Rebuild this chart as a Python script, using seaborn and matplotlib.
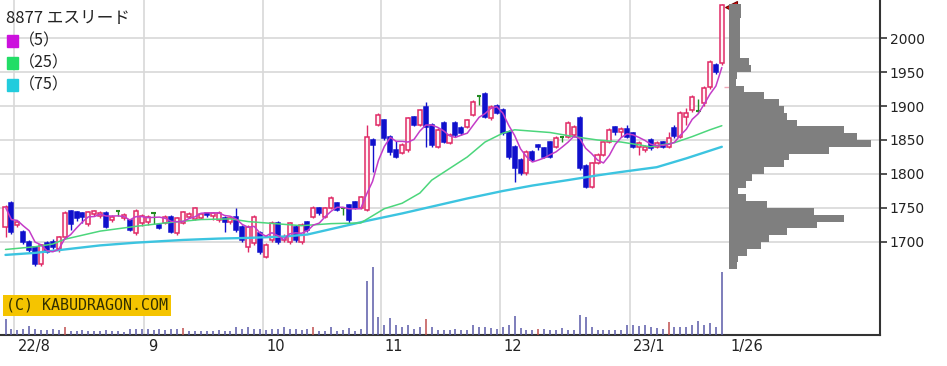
import numpy as np
import pandas as pd
import matplotlib
matplotlib.use("Agg")
import matplotlib.pyplot as plt
import matplotlib.transforms as mtransforms
from matplotlib.patches import Rectangle
import seaborn as sns

# ==========================
# data (8877 エスリード, daily, 2022/7 - 2023/1/26)
# ==========================
opens = [1722, 1758, 1725, 1714, 1700, 1692, 1667, 1698, 1700, 1689,
         1707, 1746, 1744, 1742, 1726, 1741, 1738, 1743, 1732, 1745,
         1735, 1732, 1713, 1728, 1730, 1742, 1725, 1728, 1737, 1713,
         1728, 1737, 1734, 1736, 1742, 1738, 1732, 1736, 1730, 1737,
         1722, 1693, 1698, 1713, 1678, 1703, 1728, 1703, 1700, 1722,
         1700, 1729, 1737, 1750, 1737, 1750, 1757, 1750, 1754, 1759,
         1750, 1747, 1850, 1872, 1879, 1855, 1835, 1831, 1835, 1884,
         1872, 1899, 1872, 1840, 1875, 1846, 1875, 1867, 1869, 1887,
         1915, 1918, 1882, 1900, 1894, 1862, 1840, 1821, 1801, 1832,
         1843, 1838, 1847, 1840, 1855, 1855, 1857, 1882, 1812, 1781,
         1816, 1828, 1847, 1869, 1862, 1866, 1860, 1840, 1835, 1850,
         1840, 1847, 1840, 1868, 1855, 1884, 1894, 1893, 1904, 1928,
         1960, 1963]
highs = [1754, 1761, 1731, 1718, 1703, 1694, 1697, 1701, 1704, 1709,
         1745, 1747, 1746, 1744, 1746, 1747, 1746, 1745, 1739, 1746,
         1742, 1734, 1748, 1741, 1740, 1743, 1726, 1739, 1739, 1737,
         1746, 1744, 1752, 1743, 1744, 1744, 1745, 1738, 1737, 1750,
         1725, 1725, 1740, 1716, 1698, 1731, 1731, 1712, 1730, 1725,
         1728, 1731, 1753, 1752, 1752, 1768, 1759, 1750, 1756, 1761,
         1768, 1872, 1853, 1890, 1881, 1858, 1848, 1845, 1884, 1886,
         1896, 1906, 1875, 1868, 1878, 1860, 1878, 1870, 1881, 1909,
         1915, 1920, 1901, 1903, 1897, 1864, 1843, 1823, 1835, 1835,
         1844, 1840, 1849, 1856, 1855, 1878, 1872, 1885, 1814, 1818,
         1831, 1849, 1868, 1871, 1869, 1872, 1862, 1848, 1843, 1853,
         1849, 1849, 1862, 1872, 1893, 1897, 1916, 1910, 1929, 1968,
         1963, 2050]
lows = [1707, 1712, 1722, 1697, 1685, 1664, 1665, 1684, 1689, 1686,
        1705, 1718, 1731, 1728, 1724, 1738, 1735, 1720, 1730, 1738,
        1733, 1716, 1711, 1724, 1725, 1727, 1719, 1726, 1713, 1711,
        1726, 1735, 1732, 1734, 1737, 1733, 1730, 1715, 1727, 1715,
        1700, 1685, 1696, 1683, 1676, 1700, 1697, 1700, 1697, 1700,
        1697, 1715, 1735, 1740, 1735, 1748, 1745, 1740, 1728, 1748,
        1748, 1745, 1803, 1870, 1850, 1828, 1823, 1829, 1833, 1870,
        1870, 1840, 1840, 1838, 1845, 1844, 1854, 1857, 1867, 1885,
        1901, 1882, 1880, 1888, 1858, 1822, 1788, 1798, 1799, 1819,
        1836, 1823, 1823, 1838, 1847, 1853, 1855, 1806, 1779, 1779,
        1814, 1826, 1845, 1858, 1855, 1853, 1838, 1828, 1833, 1835,
        1838, 1838, 1838, 1853, 1853, 1872, 1891, 1890, 1900, 1925,
        1947, 1960]
closes = [1751, 1715, 1729, 1700, 1688, 1667, 1695, 1686, 1692, 1707,
          1743, 1726, 1735, 1737, 1744, 1745, 1743, 1722, 1737, 1745,
          1740, 1718, 1746, 1738, 1737, 1742, 1720, 1737, 1715, 1735,
          1744, 1741, 1750, 1741, 1739, 1742, 1743, 1730, 1735, 1718,
          1703, 1722, 1737, 1685, 1696, 1728, 1700, 1708, 1728, 1703,
          1725, 1718, 1750, 1743, 1750, 1765, 1747, 1750, 1732, 1750,
          1766, 1854, 1843, 1887, 1853, 1832, 1825, 1843, 1882, 1872,
          1894, 1869, 1843, 1865, 1847, 1857, 1857, 1860, 1879, 1906,
          1915, 1884, 1899, 1890, 1860, 1825, 1809, 1801, 1832, 1821,
          1839, 1825, 1825, 1853, 1855, 1875, 1869, 1809, 1781, 1816,
          1828, 1847, 1865, 1862, 1866, 1855, 1840, 1846, 1840, 1838,
          1846, 1840, 1853, 1856, 1890, 1890, 1913, 1893, 1926, 1965,
          1950, 2049]
volume = [16, 6, 5, 6, 9, 6, 5, 5, 6, 5,
          8, 4, 4, 5, 4, 4, 4, 5, 4, 4,
          3, 6, 6, 6, 6, 5, 6, 5, 6, 6,
          7, 4, 4, 4, 4, 4, 5, 4, 4, 8,
          6, 8, 6, 6, 5, 6, 6, 8, 6, 6,
          5, 6, 8, 4, 4, 8, 4, 5, 7, 4,
          6, 54, 68, 18, 10, 17, 10, 8, 10, 6,
          8, 16, 8, 5, 5, 5, 6, 5, 5, 10,
          8, 8, 7, 6, 8, 10, 19, 7, 5, 5,
          6, 6, 5, 5, 7, 5, 5, 20, 18, 8,
          5, 5, 5, 5, 5, 10, 10, 9, 10, 8,
          7, 6, 13, 8, 8, 8, 10, 14, 10, 12,
          8, 63]
sq_days = [10, 30, 52, 71, 90, 112]

# moving averages (read at points along the lines)
ma25_idx = [0, 5, 8, 10, 13, 16, 22, 27, 33, 38, 41, 44, 50, 55, 60, 64, 67,
            70, 72, 75, 78, 81, 84, 86, 92, 96, 100, 104, 109, 113, 116, 119, 121]
ma25_val = [1689, 1693, 1697, 1704, 1710, 1716, 1723, 1728, 1733, 1734, 1730,
            1728, 1724, 1727, 1728, 1749, 1757, 1772, 1791, 1808, 1825, 1847,
            1860, 1865, 1861, 1855, 1850, 1847, 1840, 1846, 1855, 1865, 1871]
ma75_idx = [0, 5, 10, 16, 22, 26, 30, 36, 41, 47, 51, 55, 61, 67, 72, 78, 84,
            89, 95, 100, 104, 110, 115, 121]
ma75_val = [1681, 1684, 1689, 1695, 1699, 1701, 1703, 1705, 1706, 1708, 1711,
            1719, 1731, 1742, 1752, 1764, 1775, 1783, 1791, 1798, 1803, 1810,
            1823, 1840]

# price-by-volume profile (10 yen bins)
prof_lo = list(range(1660, 2050, 10))
prof_vol = [8, 9, 18, 32, 40, 58, 88, 115, 85, 38,
            17, 9, 17, 23, 35, 55, 60, 100, 142, 128,
            115, 68, 58, 55, 50, 35, 15, 7, 8, 22,
            20, 11, 11, 11, 11, 11, 11, 12, 12]

month_idx = [2, 24, 44, 64, 84, 106]
month_lbl = ["22/8", "9", "10", "11", "12", "23/1"]

df = pd.DataFrame({"open": opens, "high": highs, "low": lows, "close": closes, "vol": volume})
df["ma5"] = df["close"].rolling(5, min_periods=1).mean()
n = len(df)

# ==========================
# plot
# ==========================
sns.set_theme(style="white")
plt.rcParams["font.family"] = ["DejaVu Sans"]
cjk = ["Noto Sans CJK JP", "DejaVu Sans"]

W, H = 947, 366
fig = plt.figure(figsize=(W / 100, H / 100), dpi=100)
rect = [0, 1 - 335 / H, 880 / W, 335 / H]
ax = fig.add_axes(rect)

x_px0, x_step = 5.5, 5.92
ax.set_xlim(-x_px0 / x_step, (880 - x_px0) / x_step)
ax.set_ylim(1563.2, 2055.9)

grid_c = "#d8d8d8"
ax.set_yticks([1700, 1750, 1800, 1850, 1900, 1950, 2000])
ax.yaxis.tick_right()
ax.tick_params(axis="y", direction="out", length=5, width=1.2, color="#333333",
               labelsize=10, labelcolor="#222222", pad=2)
ax.set_xticks([])
ax.grid(axis="y", color=grid_c, lw=1.2, zorder=0)
for m in month_idx:
    ax.axvline(m - 0.55, color=grid_c, lw=1.2, zorder=0)
for s in ["left", "top"]:
    ax.spines[s].set_visible(False)
for s in ["right", "bottom"]:
    ax.spines[s].set_color("#333333")
    ax.spines[s].set_linewidth(1.5)

# x labels
trans = mtransforms.blended_transform_factory(ax.transData, ax.transAxes)
for m, lb in zip(month_idx, month_lbl):
    ax.text(m + 0.05, -0.012, lb, transform=trans, ha="left", va="top",
            fontsize=10.5, color="#222222")
ax.text(n + 0.4, -0.012, "1/26", transform=trans, ha="left", va="top",
        fontsize=10.5, color="#222222")

# candles
up_c, dn_c, dj_c = "#e02a66", "#1010cc", "#228b22"
for i, r in df.iterrows():
    o, h, l, c = r["open"], r["high"], r["low"], r["close"]
    if c > o:
        col, face = up_c, "#fff4f7"
    elif c < o:
        col, face = dn_c, dn_c
    else:
        col, face = dj_c, dj_c
    ax.vlines(i, l, h, color=col, lw=1.0, zorder=3)
    if c != o:
        ax.add_patch(Rectangle((i - 0.34, min(o, c)), 0.68, abs(c - o),
                               facecolor=face, edgecolor=col, lw=1.1, zorder=4))
    else:
        ax.hlines(o, i - 0.4, i + 0.4, color=col, lw=1.5, zorder=4)

# moving averages
sns.lineplot(x=ma75_idx, y=ma75_val, ax=ax, color="#3cc4e0", lw=1.7, zorder=5)
sns.lineplot(x=ma25_idx, y=ma25_val, ax=ax, color="#4cd67c", lw=1.1, zorder=5)
sns.lineplot(x=df.index, y=df["ma5"], ax=ax, color="#c43cc8", lw=1.1, zorder=5)
ax.set_xlabel("")
ax.set_ylabel("")

# last price marker
ax.plot(n + 0.6, 2045, marker="<", ms=8, mfc="#e01010", mec="#700000",
        mew=0.8, clip_on=False, zorder=7)
ax.hlines(1928, n - 0.7, n + 1.2, color="#f0a8b8", lw=1.0, zorder=6)

# volume
axv = fig.add_axes(rect, sharex=ax)
axv.patch.set_alpha(0)
axv.set_axis_off()
axv.set_ylim(0, 335)
vcols = ["#c05050" if i in sq_days else "#5a5aa8" for i in range(n)]
axv.vlines(df.index, 0, df["vol"], colors=vcols, lw=1.1)

# price-by-volume profile
axp = fig.add_axes([729 / W, rect[1], (880 - 729) / W, rect[3]])
axp.patch.set_alpha(0)
axp.set_axis_off()
axp.set_xlim(0, 151)
axp.set_ylim(ax.get_ylim())
axp.barh(prof_lo, prof_vol, height=10, align="edge", color="#7f7f7f", lw=0)

# title, legend, watermark
fig.text(6 / W, 1 - 18 / H, "8877 エスリード", family=cjk, fontsize=12,
         color="#222222", ha="left", va="center")
for yy, colr, lb in [(41, "#cc11dd", "（5）"), (63, "#22dd66", "（25）"), (85, "#22ccdd", "（75）")]:
    fig.add_artist(Rectangle((7 / W, 1 - (yy + 5.5) / H), 11 / W, 11 / H,
                             transform=fig.transFigure, color=colr))
    fig.text(19 / W, 1 - yy / H, lb, family=cjk, fontsize=11.5,
             color="#222222", ha="left", va="center")

ax.text(6 / 880, (335 - 305.5) / 335, "(C) KABUDRAGON.COM", transform=ax.transAxes,
        family=["DejaVu Sans Mono"], fontsize=10.8, color="#333000",
        ha="left", va="center", zorder=8,
        bbox=dict(boxstyle="square,pad=0.18", facecolor="#f5c400", edgecolor="none"))

fig.savefig("out.png", dpi=100)
